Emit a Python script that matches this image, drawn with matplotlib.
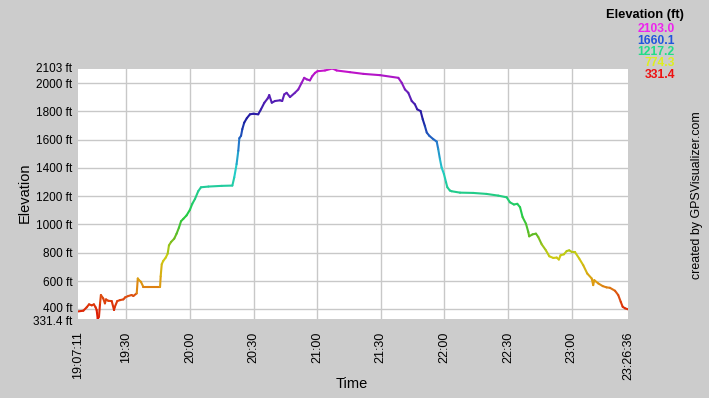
import numpy as np
import matplotlib
matplotlib.use("Agg")
import matplotlib.pyplot as plt
import matplotlib.transforms as mtransforms
from matplotlib.collections import LineCollection
from matplotlib.colors import LinearSegmentedColormap

# ---- data ----
start_time = "19:07:11"
end_time = "23:26:36"
elapsed_min = [0, 2.5, 4.1, 5.2, 6.5, 7.5, 8.3, 8.8, 9.3, 9.9, 10.4, 10.8, 11.9, 12.7, 13.2,
               14.3, 15.9, 17.0, 17.4, 18.5, 19.8, 21.4, 22.2, 23.7, 25.3, 26.1, 27.7, 28.2,
               28.8, 29.7, 30.8, 33.2, 38.7, 39.0, 39.5, 40.2, 41.4, 42.3, 42.9, 43.9, 45.4,
               46.5, 47.6, 48.6, 49.7, 51.2, 52.8, 53.9, 55.2, 56.7, 58.0, 61.5, 67.8, 72.8,
               73.7, 74.8, 75.6, 76.1, 76.9, 77.5, 78.4, 79.6, 81.1, 82.7, 85.0, 86.3, 87.9,
               89.5, 90.2, 91.4, 92.9, 95.3, 96.3, 97.3, 98.4, 100.0, 102.3, 103.9, 105.5,
               106.7, 107.9, 109.4, 110.5, 111.8, 113.0, 116.5, 120.0, 122.0, 128.3, 134.6,
               142.4, 151.1, 152.7, 154.2, 155.8, 157.4, 158.9, 160.0, 161.6, 162.6, 163.6,
               164.5, 165.7, 167.6, 169.2, 169.9, 170.7, 171.5, 172.6, 173.6, 174.2, 175.4,
               176.2, 180.2, 186.4, 192.7, 198.2, 202.2, 203.7, 205.6, 207.2, 208.5, 209.7,
               211.3, 212.4, 212.8, 214.4, 216.0, 217.1, 218.7, 220.7, 222.3, 224.2, 225.8,
               226.8, 227.6, 229.2, 230.5, 231.7, 233.0, 234.4, 236.4, 238.3, 240.2, 242.3,
               243.0, 243.5, 245.4, 247.5, 249.3, 250.9, 253.3, 254.8, 256.0, 256.9, 258.0,
               259.42]
elevation_ft = [385, 390, 414, 435, 428, 435, 414, 395, 331.4, 348, 442, 501, 477, 442, 470,
                460, 458, 395, 418, 458, 465, 470, 484, 494, 501, 494, 513, 618,
                606, 594, 559, 559, 559, 634, 719, 742, 766, 794, 852, 876, 900,
                935, 977, 1023, 1040, 1064, 1104, 1146, 1181, 1235, 1263, 1268, 1273, 1275,
                1333, 1427, 1521, 1610, 1627, 1674, 1720, 1751, 1779, 1783, 1779, 1814, 1861,
                1892, 1915, 1861, 1873, 1878, 1873, 1920, 1931, 1901, 1931, 1955, 2002,
                2037, 2026, 2019, 2049, 2072, 2084, 2089, 2103, 2089, 2077, 2065,
                2056, 2037, 2002, 1955, 1931, 1873, 1850, 1814, 1802, 1744, 1697,
                1650, 1627, 1603, 1586, 1533, 1463, 1403, 1357, 1298, 1263, 1240,
                1235, 1225, 1223, 1216, 1204, 1192, 1157, 1141, 1146, 1122, 1052,
                1005, 946, 916, 930, 935, 911, 860, 817, 775, 763, 766,
                752, 782, 789, 812, 817, 805, 805, 759, 712, 653, 618,
                571, 606, 583, 564, 555, 552, 531, 501, 453, 418, 407,
                400]
y_ticks = [400, 600, 800, 1000, 1200, 1400, 1600, 1800, 2000]
y_min, y_max = 331.4, 2103.0
x_tick_labels = ["19:07:11", "19:30", "20:00", "20:30", "21:00", "21:30", "22:00",
                 "22:30", "23:00", "23:26:36"]
legend_values = [2103.0, 1660.1, 1217.2, 774.3, 331.4]
legend_colors = ["#ee22ee", "#2255dd", "#22dd88", "#ddee22", "#ee1111"]


def to_min(s):
    parts = [int(p) for p in s.split(":")]
    while len(parts) < 3:
        parts.append(0)
    return parts[0] * 60 + parts[1] + parts[2] / 60.0


t0 = to_min(start_time)
x_tick_pos = [to_min(s) - t0 for s in x_tick_labels]
x_end = to_min(end_time) - t0

cmap = LinearSegmentedColormap.from_list("elev", [
    (0.0, "#dd1100"), (0.1, "#dd5511"), (0.14, "#dd9911"), (0.25, "#cccc11"),
    (0.33, "#66bb22"), (0.42, "#22cc44"), (0.5, "#22cc88"), (0.6, "#22cccc"),
    (0.7, "#2277cc"), (0.8, "#1a1aa0"), (0.9, "#6620bb"), (1.0, "#cc11cc")])

bg = "#cccccc"
fig = plt.figure(figsize=(7.09, 3.98), dpi=100, facecolor=bg)
ax = fig.add_axes([78 / 709, 1 - 319 / 398, 550 / 709, 250.5 / 398])
ax.set_facecolor("white")

x = np.array(elapsed_min)
y = np.array(elevation_ft)
pts = np.column_stack([x, y]).reshape(-1, 1, 2)
segs = np.concatenate([pts[:-1], pts[1:]], axis=1)
mid = (y[:-1] + y[1:]) / 2
lc = LineCollection(segs, cmap=cmap, norm=plt.Normalize(y_min, y_max), linewidth=1.5,
                    capstyle="round", joinstyle="round", zorder=3)
lc.set_array(mid)
ax.add_collection(lc)

ax.set_xlim(0, x_end)
ax.set_ylim(y_min, y_max)

font = "Liberation Sans"
yt = [y_min] + y_ticks + [y_max]
ytl = ["331.4 ft"] + [f"{v} ft" for v in y_ticks] + ["2103 ft"]
ax.set_yticks(yt)
ax.set_yticklabels(ytl, fontsize=8.5, family=font)
ax.set_xticks(x_tick_pos)
ax.set_xticklabels(x_tick_labels, rotation=90, fontsize=9, family=font, va="top")
ax.tick_params(axis="both", length=0)
ax.tick_params(axis="y", pad=4)
ax.tick_params(axis="x", pad=9)

# nudge the crowded edge labels apart a little
labels = ax.get_yticklabels()
shifts = {0: -1.5 / 72 * 72 / 100, 1: 1.5 / 100}
for i, dy in [(0, -1.6), (1, 1.6), (len(labels) - 1, 1.0)]:
    off = mtransforms.ScaledTranslation(0, dy / 100, fig.dpi_scale_trans)
    labels[i].set_transform(labels[i].get_transform() + off)

for v in y_ticks:
    ax.axhline(v, color="#c8c8c8", lw=1, zorder=1)
for v in x_tick_pos[1:-1]:
    ax.axvline(v, color="#c8c8c8", lw=1, zorder=1)
for s in ax.spines.values():
    s.set_visible(False)

fig.text(25 / 709, 1 - 193 / 398, "Elevation", rotation=90, ha="center", va="center",
         fontsize=10.5, family=font)
fig.text(352 / 709, 1 - 384 / 398, "Time", ha="center", va="center",
         fontsize=10.5, family=font)

fig.text(684 / 709, 1 - 15 / 398, "Elevation (ft)", ha="right", va="center",
         fontsize=9.3, fontweight="bold", family=font)
leg_y = [29, 40.5, 52, 63.5, 75]
for v, c, yy in zip(legend_values, legend_colors, leg_y):
    fig.text(675 / 709, 1 - yy / 398, f"{v:.1f}", ha="right", va="center",
             fontsize=8.7, fontweight="bold", color=c, family=font)

fig.text(697 / 709, 1 - 195 / 398, "created by GPSVisualizer.com", rotation=90,
         ha="center", va="center", fontsize=8.9, family=font)

fig.savefig("out.png", dpi=100, facecolor=bg)
